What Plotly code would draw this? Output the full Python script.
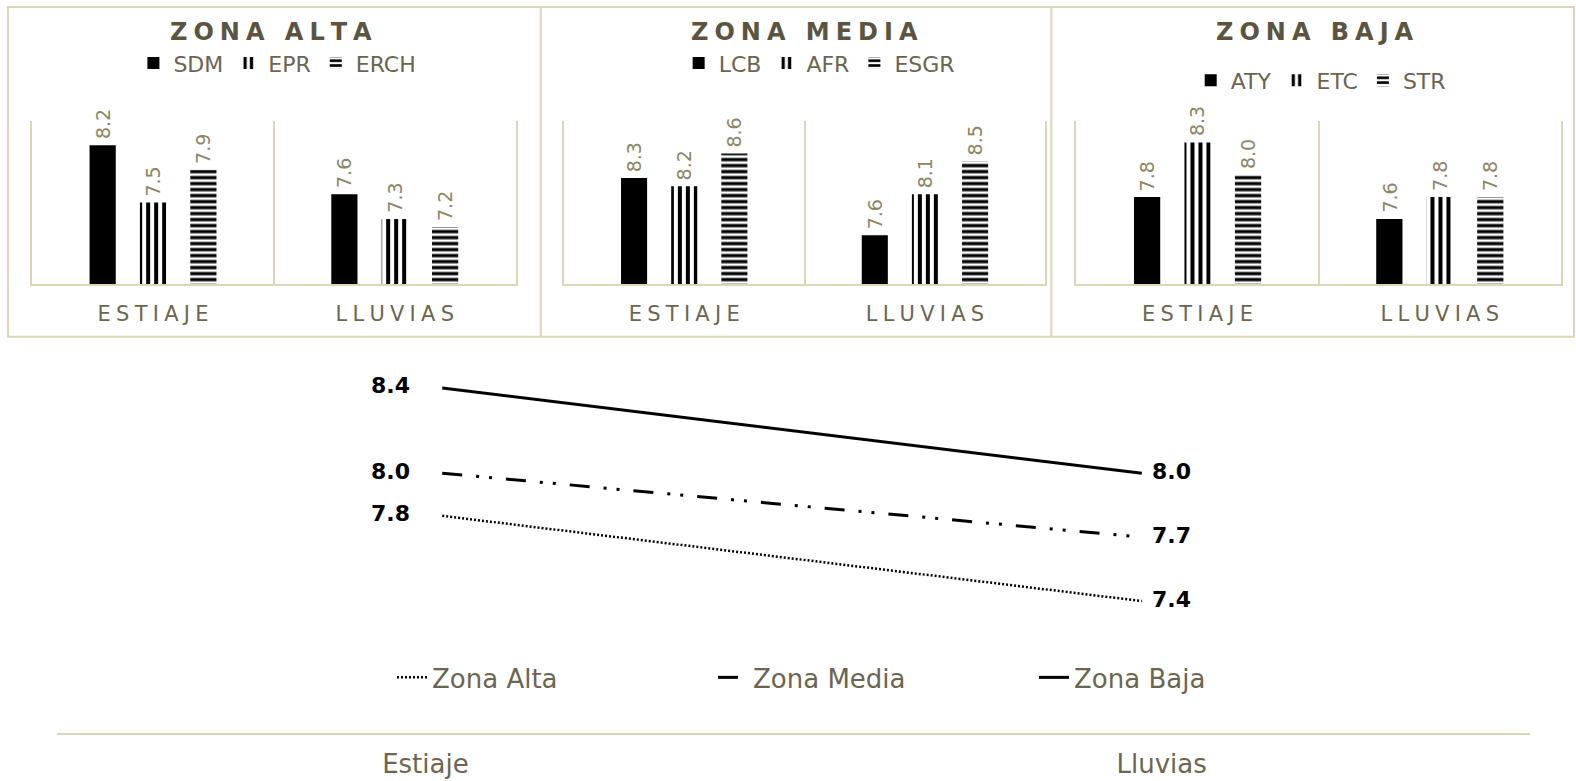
import plotly.graph_objects as go

# ---------------- data ----------------
periods = ["ESTIAJE", "LLUVIAS"]
periods_line = ["Estiaje", "Lluvias"]

zone_titles = ["ZONA ALTA", "ZONA MEDIA", "ZONA BAJA"]

alta_sites = ["SDM", "EPR", "ERCH"]
alta_values = [[8.2, 7.6], [7.5, 7.3], [7.9, 7.2]]

media_sites = ["LCB", "AFR", "ESGR"]
media_values = [[8.3, 7.6], [8.2, 8.1], [8.6, 8.5]]

baja_sites = ["ATY", "ETC", "STR"]
baja_values = [[7.8, 7.6], [8.3, 7.8], [8.0, 7.8]]

line_names = ["Zona Alta", "Zona Media", "Zona Baja"]
line_alta = [7.8, 7.4]
line_media = [8.0, 7.7]
line_baja = [8.4, 8.0]

# ---------------- styling ----------------
W, H = 1576, 781
FW, FH = 1568, 777          # layout grid used for placement


def fx(x):
    return x / FW


def fy(y):
    return 1 - y / FH


BEIGE = "#dad6b6"
TITLE_C = "#5a5441"
AXIS_C = "#6c6650"
VALUE_C = "#8d8666"
LEG_C = "#6b6550"
FONT = "DejaVu Sans"


def track(s, sp="\u2005"):
    return sp.join(list(s))


panel_x = [(32, 513), (561, 1040), (1071, 1553)]
panel_y = (120, 283)
panel_ranges = [[6.5, 8.5], [7.0, 9.0], [7.0, 8.5]]
title_x = [270, 800, 1308]
legend_pos = [(276, 63), (815, 63), (1314, 80)]

BARGAP = 0.375
BARGROUPGAP = 0.48

patterns = [
    dict(shape=""),
    dict(shape="|", size=8, solidity=0.5, fgcolor="black", bgcolor="white", fgopacity=1),
    dict(shape="-", size=6, solidity=0.55, fgcolor="black", bgcolor="white", fgopacity=1),
]
bar_colors = ["black", "white", "white"]

zones = [
    (alta_sites, alta_values),
    (media_sites, media_values),
    (baja_sites, baja_values),
]

fig = go.Figure()
annotations = []
period_cats = [track(p) for p in periods]

for z, (sites, values) in enumerate(zones):
    ax = "" if z == 0 else str(z + 1)
    leg = "legend" if z == 0 else "legend%d" % (z + 1)
    for i, (site, vals) in enumerate(zip(sites, values)):
        fig.add_trace(go.Bar(
            x=period_cats, y=vals, name=site,
            xaxis="x" + ax, yaxis="y" + ax, legend=leg,
            marker=dict(color=bar_colors[i], pattern=patterns[i], line=dict(width=0)),
            hoverinfo="skip",
        ))
    # rotated value labels above each bar
    cat_px = (panel_x[z][1] - panel_x[z][0]) / len(periods)
    slot_px = cat_px * (1 - BARGAP) / len(sites)
    for i, vals in enumerate(values):
        for c, v in zip(period_cats, vals):
            annotations.append(dict(
                x=c, y=v, xref="x" + ax, yref="y" + ax,
                text="%.1f" % v, textangle=-90, showarrow=False,
                xanchor="center", yanchor="bottom",
                xshift=(i - (len(sites) - 1) / 2) * slot_px, yshift=4,
                font=dict(family=FONT, size=19, color=VALUE_C),
            ))
    annotations.append(dict(
        x=fx(title_x[z]), y=fy(32), xref="paper", yref="paper",
        text=track(zone_titles[z]), showarrow=False,
        xanchor="center", yanchor="middle",
        font=dict(family=FONT, size=24, color=TITLE_C, weight="bold"),
    ))

# ---------------- bottom line chart ----------------
line_series = [line_alta, line_media, line_baja]
line_styles = [
    dict(color="black", width=2.5, dash="2px,2px"),
    dict(color="black", width=3, dash="20px,14px,3px,10px,3px,14px"),
    dict(color="black", width=3, dash="solid"),
]
for name, vals, st in zip(line_names, line_series, line_styles):
    fig.add_trace(go.Scatter(
        x=[0, 1], y=vals, name=name, mode="lines",
        xaxis="x4", yaxis="y4", legend="legend4",
        line=st, hoverinfo="skip",
    ))
    for k, v in enumerate(vals):
        annotations.append(dict(
            x=k, y=v, xref="x4", yref="y4", text="%.1f" % v,
            showarrow=False, xanchor="right" if k == 0 else "left",
            yanchor="middle", xshift=-30 if k == 0 else 8, yshift=2,
            font=dict(family=FONT, size=22, color="black", weight="bold"),
        ))

# axis holding the period labels
fig.add_trace(go.Scatter(x=[], y=[], xaxis="x5", yaxis="y4", showlegend=False,
                         hoverinfo="skip"))

# pixel mapping of the line plot
LY_TOP, LY_BOT = 340, 729
LX_L, LX_R = 57, 1522
PX_PER_UNIT = 212.0
Y_REF_VAL, Y_REF_PX = 8.4, 386
y4_range = [Y_REF_VAL - (LY_BOT - Y_REF_PX) / PX_PER_UNIT,
            Y_REF_VAL + (Y_REF_PX - LY_TOP) / PX_PER_UNIT]
START_PX, END_PX = 440, 1136
unit_x = END_PX - START_PX
x4_range = [-(START_PX - LX_L) / unit_x, (LX_R - START_PX) / unit_x]

layout = dict(
    width=W, height=H, margin=dict(l=0, r=0, t=0, b=0, autoexpand=False),
    paper_bgcolor="white", plot_bgcolor="white",
    font=dict(family=FONT, color=LEG_C),
    barmode="group", bargap=BARGAP, bargroupgap=BARGROUPGAP,
    showlegend=True, annotations=annotations,
)

for z in range(3):
    ax = "" if z == 0 else str(z + 1)
    layout["xaxis" + ax] = dict(
        domain=[fx(panel_x[z][0]), fx(panel_x[z][1])], anchor="y" + ax,
        type="category", showline=True, linecolor=BEIGE, linewidth=2,
        showgrid=True, gridcolor=BEIGE, gridwidth=2, tickson="boundaries",
        ticks="", zeroline=False, ticklabelstandoff=9, automargin=False,
        tickfont=dict(family=FONT, size=21, color=AXIS_C),
        fixedrange=True,
    )
    layout["yaxis" + ax] = dict(
        domain=[fy(panel_y[1]), fy(panel_y[0])], anchor="x" + ax,
        range=panel_ranges[z], showline=True, mirror=True, linecolor=BEIGE,
        linewidth=2, showgrid=False, zeroline=False, showticklabels=False,
        ticks="", fixedrange=True, automargin=False,
    )
    leg = "legend" if z == 0 else "legend%d" % (z + 1)
    layout[leg] = dict(
        orientation="h", x=fx(legend_pos[z][0]), y=fy(legend_pos[z][1]),
        xanchor="center", yanchor="middle", bgcolor="rgba(0,0,0,0)",
        font=dict(family=FONT, size=22, color=LEG_C), itemwidth=30,
        itemclick=False, itemdoubleclick=False,
    )

layout["xaxis4"] = dict(
    domain=[fx(LX_L), fx(LX_R)], anchor="y4", range=x4_range,
    visible=False, fixedrange=True, automargin=False,
)
layout["xaxis5"] = dict(
    domain=[fx(LX_L), fx(LX_R)], anchor="y4", overlaying="x4",
    range=[-0.5, 1.5], tickvals=[0, 1], ticktext=periods_line,
    showline=True, linecolor=BEIGE, linewidth=2, showgrid=False,
    zeroline=False, ticks="", ticklabelstandoff=7, automargin=False,
    tickfont=dict(family=FONT, size=26, color=AXIS_C), fixedrange=True,
)
layout["yaxis4"] = dict(
    domain=[fy(LY_BOT), fy(LY_TOP)], anchor="x4", range=y4_range,
    visible=False, fixedrange=True, automargin=False,
)
layout["legend4"] = dict(
    orientation="h", x=fx(390), y=fy(674), xanchor="left", yanchor="middle",
    bgcolor="rgba(0,0,0,0)", entrywidth=276, entrywidthmode="pixels",
    font=dict(family=FONT, size=26, color=LEG_C), itemwidth=30,
    itemclick=False, itemdoubleclick=False,
)

# frame around the three bar panels
frame = dict(type="line", xref="paper", yref="paper", line=dict(color=BEIGE, width=2))
layout["shapes"] = [
    dict(type="rect", xref="paper", yref="paper", x0=fx(8), x1=fx(1566),
         y0=fy(335), y1=fy(7), line=dict(color=BEIGE, width=2)),
    dict(frame, x0=fx(538), x1=fx(538), y0=fy(335), y1=fy(7)),
    dict(frame, x0=fx(1046), x1=fx(1046), y0=fy(335), y1=fy(7)),
]

fig.update_layout(**layout)
fig.write_html("out.html")
